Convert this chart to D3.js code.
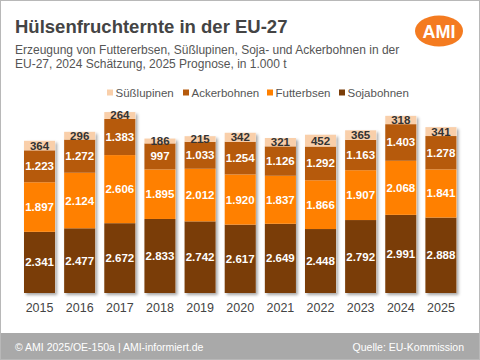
<!DOCTYPE html>
<html><head><meta charset="utf-8">
<script src="https://cdn.jsdelivr.net/npm/d3@7"></script>
<style>html,body{margin:0;padding:0;background:#fff;}svg{display:block;font-family:"Liberation Sans",Arial,sans-serif;}</style>
</head><body>
<svg id="c" width="480" height="360"></svg>
<script>
const years = ["2015","2016","2017","2018","2019","2020","2021","2022","2023","2024","2025"];
const sojabohnen = [2341,2477,2672,2833,2742,2617,2649,2448,2792,2991,2888];
const futtererbsen = [1897,2124,2606,1895,2012,1920,1837,1866,1907,2068,1841];
const ackerbohnen = [1223,1272,1383,997,1033,1254,1126,1292,1163,1403,1278];
const suesslupinen = [364,296,264,186,215,342,321,452,365,318,341];
const seriesNames = ["Sojabohnen","Futterbsen","Ackerbohnen","Süßlupinen"];
const seriesValues = [sojabohnen, futtererbsen, ackerbohnen, suesslupinen];
const colors = ["#7a3d08","#ff8000","#b65a0c","#f9cfaa"];
const labelColors = ["#fff","#fff","#fff","#333"];
const legendOrder = ["Süßlupinen","Ackerbohnen","Futterbsen","Sojabohnen"];

const svg = d3.select("#c");
const fmt = v => d3.format(",")(v).replace(/,/g,".");

// border
svg.append("rect").attr("x",0.5).attr("y",0.5).attr("width",479).attr("height",359)
  .attr("fill","#fff").attr("stroke","#b8b8b8");

const defs = svg.append("defs");
const f = defs.append("filter").attr("id","sh").attr("x","-20%").attr("y","-20%").attr("width","150%").attr("height","150%");
f.append("feDropShadow").attr("dx",2).attr("dy",2).attr("stdDeviation",1.5).attr("flood-color","#000").attr("flood-opacity",0.35);

// title
svg.append("text").attr("x",15).attr("y",33).attr("font-size",18.5).attr("font-weight","bold")
  .attr("fill","#444").text("Hülsenfruchternte in der EU-27");
svg.append("text").attr("x",15).attr("y",54).attr("font-size",12).attr("fill","#555")
  .text("Erzeugung von Futtererbsen, Süßlupinen, Soja- und Ackerbohnen in der");
svg.append("text").attr("x",15).attr("y",68).attr("font-size",12).attr("fill","#555")
  .text("EU-27, 2024 Schätzung, 2025 Prognose, in 1.000 t");

// logo
svg.append("ellipse").attr("cx",439).attr("cy",31).attr("rx",24).attr("ry",15.5).attr("fill","#f47b20");
svg.append("text").attr("x",439).attr("y",37.5).attr("text-anchor","middle").attr("font-size",18)
  .attr("font-weight","bold").attr("fill","#fff").text("AMI");

// legend
const legX = [107,183,267,339];
legendOrder.forEach((n,i)=>{
  const si = seriesNames.indexOf(n);
  const g = svg.append("g").attr("transform",`translate(${legX[i]},93)`);
  g.append("rect").attr("x",0).attr("y",-3.5).attr("width",6).attr("height",6).attr("fill",colors[si]);
  g.append("text").attr("x",8.5).attr("y",4).attr("font-size",11.5).attr("fill","#555").text(n);
});

// scales
const x = d3.scaleBand().domain(years).range([24,456.5]).paddingInner(0.225).paddingOuter(0);
const y = d3.scaleLinear().domain([0,7000]).range([293,293-7000*0.02613]);

const data = years.map((yr,i)=>{const o={year:yr}; seriesNames.forEach((n,k)=>o[n]=seriesValues[k][i]); return o;});
const stack = d3.stack().keys(seriesNames)(data);

// shadows
svg.append("g").selectAll("rect").data(data).join("rect")
  .attr("x",d=>x(d.year)).attr("width",x.bandwidth())
  .attr("y",d=>y(seriesNames.reduce((s,n)=>s+d[n],0)))
  .attr("height",d=>y(0)-y(seriesNames.reduce((s,n)=>s+d[n],0)))
  .attr("fill","#fff").attr("filter","url(#sh)");

stack.forEach((layer,k)=>{
  const g = svg.append("g");
  g.selectAll("rect").data(layer).join("rect")
    .attr("x",d=>x(d.data.year)).attr("width",x.bandwidth())
    .attr("y",d=>y(d[1])).attr("height",d=>y(d[0])-y(d[1]))
    .attr("fill",colors[k]);
});
stack.forEach((layer,k)=>{
  svg.append("g").selectAll("text").data(layer).join("text")
    .attr("x",d=>x(d.data.year)+x.bandwidth()/2)
    .attr("y",d=>(y(d[0])+y(d[1]))/2 + 4)
    .attr("text-anchor","middle").attr("font-size",11.5).attr("font-weight","bold")
    .attr("fill",labelColors[k]).text(d=>fmt(d[1]-d[0]));
});

// x axis
const ax = svg.append("g").attr("transform","translate(0,293)").call(d3.axisBottom(x).tickSize(0).tickPadding(10));
ax.select(".domain").remove();
ax.selectAll("text").attr("font-size",12.5).attr("fill","#444").attr("font-family","Liberation Sans, Arial, sans-serif");

// footer
svg.append("rect").attr("x",1).attr("y",333).attr("width",478).attr("height",26).attr("fill","#a9a9a9");
svg.append("text").attr("x",15).attr("y",351).attr("font-size",10.5).attr("fill","#fff").text("© AMI 2025/OE-150a | AMI-informiert.de");
svg.append("text").attr("x",464).attr("y",351).attr("text-anchor","end").attr("font-size",10.5).attr("fill","#fff").text("Quelle: EU-Kommission");
</script>
</body></html>
